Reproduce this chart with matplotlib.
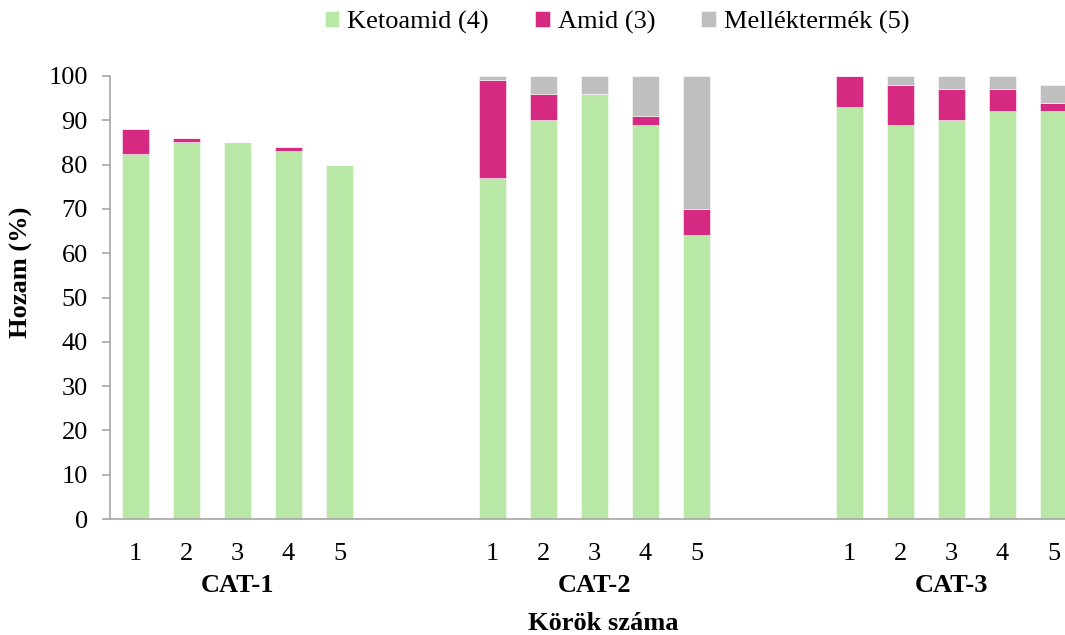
import matplotlib
matplotlib.use("Agg")
import matplotlib.pyplot as plt
import numpy as np

plt.rcParams['font.family'] = ['Liberation Serif', 'DejaVu Serif']

groups = ["CAT-1", "CAT-2", "CAT-3"]
rounds = ["1", "2", "3", "4", "5"]
ketoamid = [82.5, 85, 85, 83, 80,   77, 90, 96, 89, 64,   93, 89, 90, 92, 92]
amid     = [5.5, 1, 0, 1, 0,        22, 6, 0, 2, 6,       7, 9, 7, 5, 2]
mellek   = [0, 0, 0, 0, 0,          1, 4, 4, 9, 30,       0, 2, 3, 3, 4]
series_names = ["Ketoamid (4)", "Amid (3)", "Melléktermék (5)"]
colors = ["#B9E7A5", "#D62A82", "#BFBFBF"]

W, H = 1065, 635
FS = 19
fig = plt.figure(figsize=(W / 100, H / 100), dpi=100)
ax = fig.add_axes([110 / W, (H - 519) / H, 969 / W, (519 - 76) / H])

# positions: 5 bars, 2 gap slots, 5 bars, 2 gap slots, 5 bars
pos = []
for g in range(3):
    pos += [g * 7 + i for i in range(5)]
pos = np.array(pos)

k = np.array(ketoamid); a = np.array(amid); m = np.array(mellek)
bw = 0.51
ec = (1, 1, 1, 0.6)
ax.bar(pos, k, bw, color=colors[0], edgecolor=ec, linewidth=0.6, label=series_names[0])
ax.bar(pos, a, bw, bottom=k, color=colors[1], edgecolor=ec, linewidth=0.6, label=series_names[1])
ax.bar(pos, m, bw, bottom=k + a, color=colors[2], edgecolor=ec, linewidth=0.6, label=series_names[2])

ax.set_xlim(-0.5, 18.5)
ax.set_ylim(0, 100)
ax.set_yticks(range(0, 101, 10))
ax.set_xticks(pos)
ax.set_xticklabels(rounds * 3)
for s in ["top", "right"]:
    ax.spines[s].set_visible(False)
for s in ["left", "bottom"]:
    ax.spines[s].set_color("#A6A6A6")
    ax.spines[s].set_linewidth(1.2)
ax.tick_params(axis="y", direction="out", length=6, width=1.2, color="#A6A6A6",
               labelsize=FS, pad=10)
ax.tick_params(axis="x", length=0, labelsize=FS, pad=17)

# group labels
trans = matplotlib.transforms.blended_transform_factory(ax.transData, fig.transFigure)
for g, name in enumerate(groups):
    ax.text(g * 7 + 2, 1 - 586 / H, name, transform=trans, ha="center", va="center",
            fontsize=FS, fontweight="bold", clip_on=False)

fig.text(603 / W, 1 - 623 / H, "Körök száma", ha="center", va="center",
         fontsize=FS, fontweight="bold")
fig.text(21 / W, 1 - 272 / H, "Hozam (%)", ha="center", va="center", rotation=90,
         fontsize=FS, fontweight="bold")

fig.legend(loc="center", bbox_to_anchor=(617 / W, 1 - 22 / H), bbox_transform=fig.transFigure,
           ncol=3, frameon=False, fontsize=FS, handlelength=0.55, handleheight=0.55,
           handletextpad=0.3, columnspacing=1.75)

fig.savefig("out.png", dpi=100)
